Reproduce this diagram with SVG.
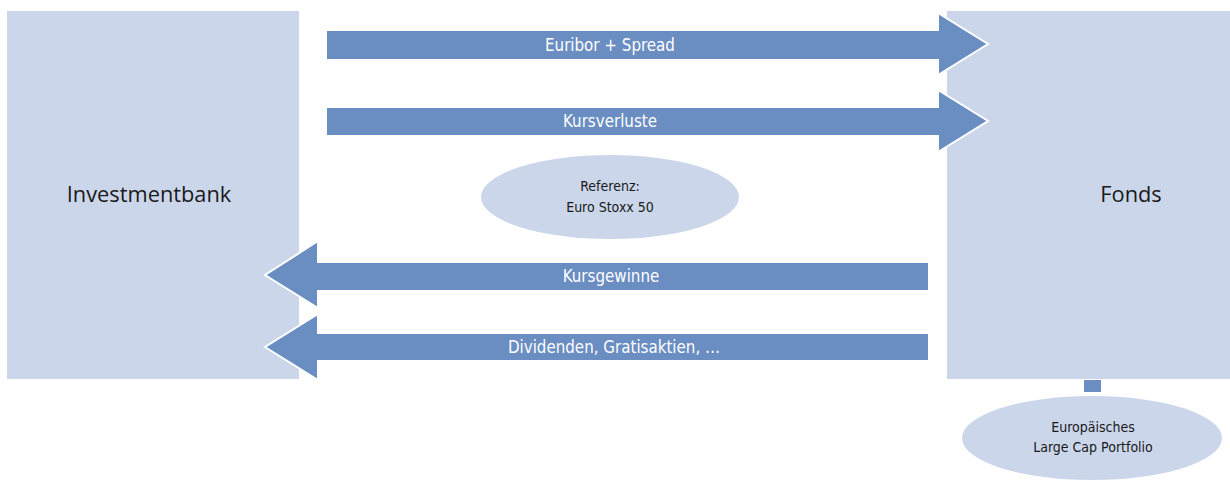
<svg xmlns="http://www.w3.org/2000/svg" width="1230" height="482" viewBox="0 0 1230 482">
<style>
.box{fill:#CBD6EA}
.arr{fill:#6A8DC2;stroke:#FFFFFF;stroke-width:2;stroke-linejoin:miter}
.lbl{font-family:"DejaVu Sans",sans-serif;font-stretch:condensed;fill:#FFFFFF;font-size:16.8px;text-anchor:middle}
.big{font-family:"Open Sans","DejaVu Sans",sans-serif;fill:#1A1A1A;font-size:21.8px;text-anchor:middle}
.sm{font-family:"DejaVu Sans",sans-serif;font-stretch:condensed;fill:#1A1A1A;font-size:14px;text-anchor:middle}
</style>
<rect width="1230" height="482" fill="#FFFFFF"/>
<g id="investmentbank">
<rect class="box" x="7" y="11" width="292" height="368"/>
<text class="big" x="149" y="202">Investmentbank</text>
</g>
<g id="fonds">
<rect class="box" x="947" y="11" width="283" height="368"/>
<text class="big" x="1131" y="202">Fonds</text>
</g>
<g id="connectors">
<polygon class="arr" points="326,30 938,30 938,13 988,44 938,75 938,60 326,60"/>
<text class="lbl" x="610" y="51">Euribor + Spread</text>
<polygon class="arr" points="326,107 938,107 938,90 988,121 938,152 938,136 326,136"/>
<text class="lbl" x="610" y="127">Kursverluste</text>
<polygon class="arr" points="929,262 318,262 318,241 265,275 318,308 318,291 929,291"/>
<text class="lbl" x="611" y="282">Kursgewinne</text>
<polygon class="arr" points="929,333 318,333 318,314 265,347 318,380 318,361 929,361"/>
<text class="lbl" x="614" y="353">Dividenden, Gratisaktien, …</text>
<rect x="1084" y="380" width="17" height="12" fill="#6A8DC2"/>
</g>
<g id="referenz">
<ellipse class="box" cx="610" cy="197" rx="129" ry="42"/>
<text class="sm" x="610" y="191">Referenz:</text>
<text class="sm" x="610" y="212">Euro Stoxx 50</text>
</g>
<g id="portfolio">
<ellipse class="box" cx="1092" cy="438" rx="130" ry="42"/>
<text class="sm" x="1093" y="432">Europäisches</text>
<text class="sm" x="1093" y="452">Large Cap Portfolio</text>
</g>
</svg>
